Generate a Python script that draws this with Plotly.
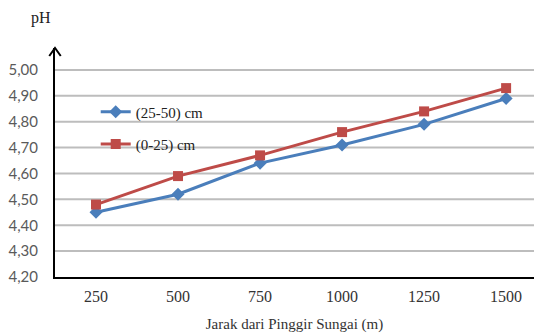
import plotly.graph_objects as go

# Distance from the river bank (m) and soil pH at two depths
jarak = ["250", "500", "750", "1000", "1250", "1500"]
ph_25_50 = [4.45, 4.52, 4.64, 4.71, 4.79, 4.89]
ph_0_25 = [4.48, 4.59, 4.67, 4.76, 4.84, 4.93]
y_ticks = [4.2, 4.3, 4.4, 4.5, 4.6, 4.7, 4.8, 4.9, 5.0]
y_tick_text = [f"{v:.2f}".replace(".", ",") for v in y_ticks]

BLUE = "#4A7EBB"
RED = "#BE4B48"
SERIF = "Times New Roman, Tinos, Liberation Serif, serif"
SANS = "Lato, Open Sans, sans-serif"

fig = go.Figure()
fig.add_trace(go.Scatter(
    x=jarak, y=ph_25_50, name="(25-50) cm", mode="lines+markers",
    line=dict(color=BLUE, width=3),
    marker=dict(symbol="diamond", size=10, color=BLUE),
    legend="legend",
))
fig.add_trace(go.Scatter(
    x=jarak, y=ph_0_25, name="(0-25) cm", mode="lines+markers",
    line=dict(color=RED, width=3),
    marker=dict(symbol="square", size=10, color=RED),
    legend="legend2",
))

# horizontal gridlines up to 5,00 only
for v in y_ticks[1:]:
    fig.add_shape(type="line", xref="paper", yref="y", x0=0, x1=1, y0=v, y1=v,
                  line=dict(color="#BDBDBD", width=2), layer="below")

# arrow head on top of the y axis
fig.add_shape(type="path", xref="paper", yref="paper",
              path="M -0.012 0.965 L 0 1 L 0.012 0.965",
              line=dict(color="black", width=2))

legend_style = dict(
    bgcolor="rgba(0,0,0,0)", font=dict(family=SERIF, size=15, color="#222"),
    xanchor="left", yanchor="middle", itemwidth=30,
)

fig.update_layout(
    width=534, height=335,
    margin=dict(l=55, r=0, t=48, b=58),
    paper_bgcolor="white", plot_bgcolor="white",
    font=dict(family=SERIF, size=14, color="#333"),
    showlegend=True,
    legend=dict(x=0.085, y=0.72, **legend_style),
    legend2=dict(x=0.085, y=0.58, **legend_style),
    xaxis=dict(
        type="category", range=[-0.5, 5.34],
        showgrid=False, showline=True, linecolor="black", linewidth=2,
        ticks="", ticklabelstandoff=4,
        tickfont=dict(family=SERIF, size=16, color="#333"),
        title=dict(text="Jarak dari Pinggir Sungai (m)",
                   font=dict(family=SERIF, size=15, color="#333"), standoff=14),
        fixedrange=True,
    ),
    yaxis=dict(
        range=[4.2, 5.085], tickvals=y_ticks, ticktext=y_tick_text,
        showgrid=False, zeroline=False, showline=True, linecolor="black", linewidth=2,
        ticks="", ticklabelstandoff=12,
        tickfont=dict(family=SANS, size=15, color="#5A5A5A"),
        fixedrange=True,
    ),
    annotations=[dict(
        text="pH", xref="paper", yref="paper", x=-0.03, y=1.0, yshift=30,
        showarrow=False, font=dict(family=SERIF, size=16, color="#222"),
        xanchor="center", yanchor="middle",
    )],
)

fig.write_html("out.html")
